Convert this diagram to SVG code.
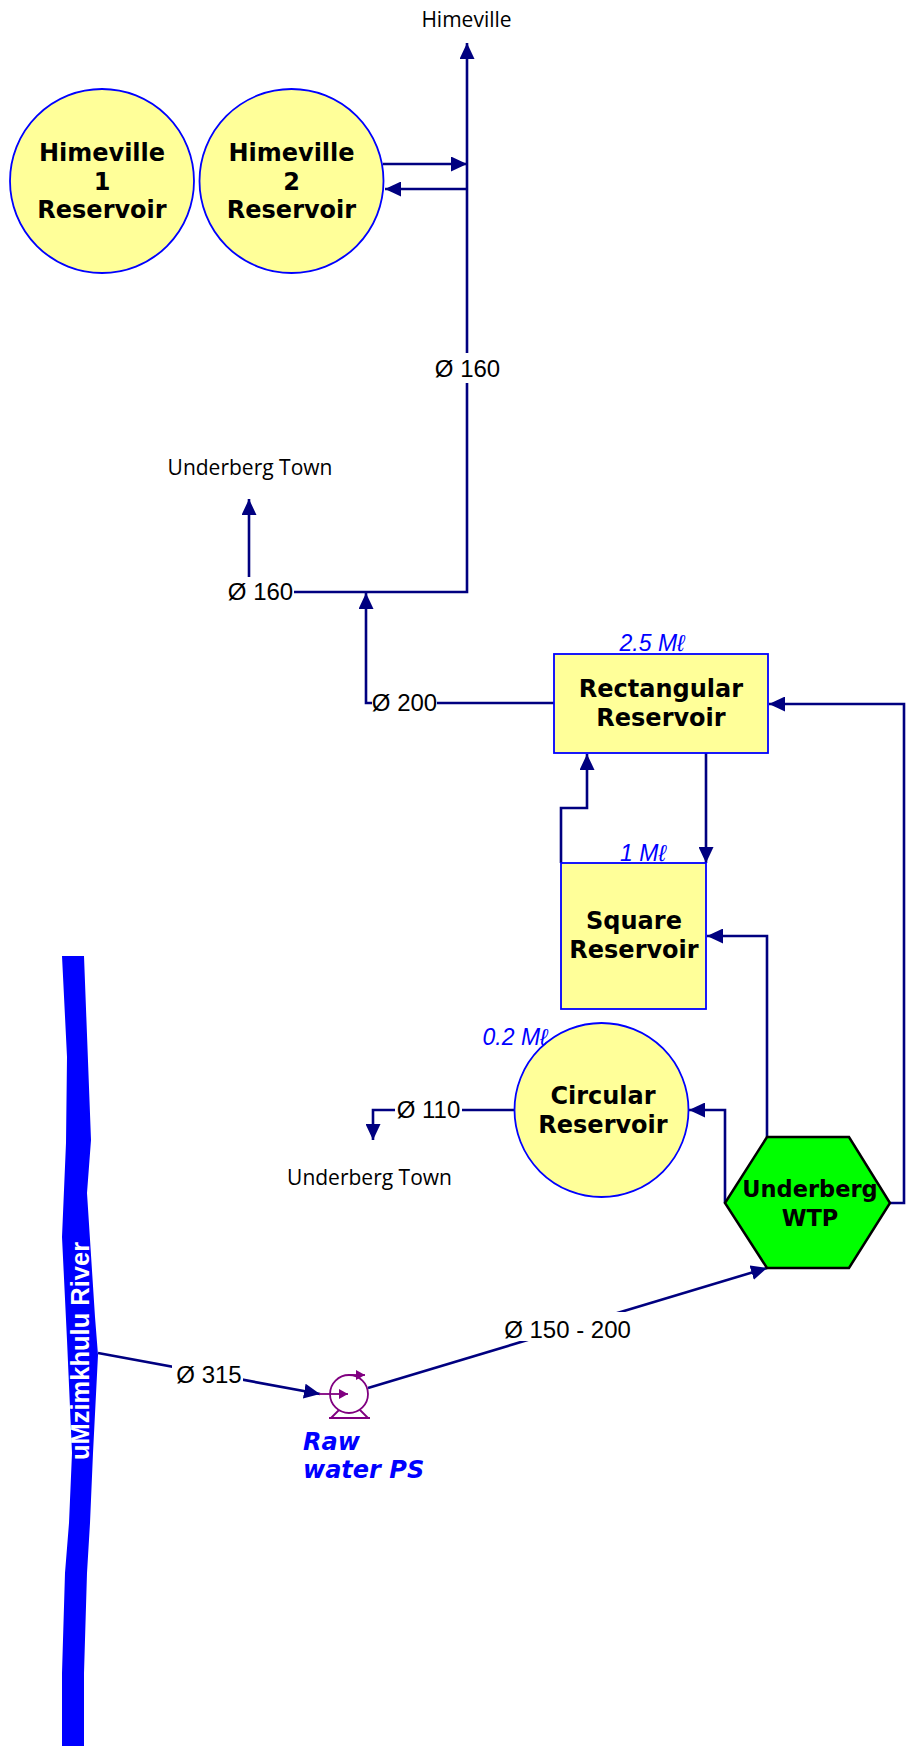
<svg xmlns="http://www.w3.org/2000/svg" width="907" height="1746" viewBox="0 0 907 1746">
<style>
.res{fill:#FFFF99;stroke:#0000FF;stroke-width:1.8}
.wtp{fill:#00FF00;stroke:#000000;stroke-width:2.5}
.pipe{fill:none;stroke:#000080;stroke-width:2.6;marker-end:url(#arr)}
.lbl{font-family:"DejaVu Sans",Verdana,sans-serif;font-weight:bold;font-size:24px;fill:#000;text-anchor:middle}
.dia{font-family:"Liberation Sans",Arial,sans-serif;font-size:24px;fill:#000;text-anchor:middle}
.cap{font-family:"Liberation Sans",Arial,sans-serif;font-style:italic;font-size:23px;fill:#0000FF;text-anchor:middle}
.dest{font-family:"Open Sans","Noto Sans",sans-serif;font-size:21px;fill:#000;text-anchor:middle}
.bg{fill:#FFFFFF}
.pump{fill:none;stroke:#800080;stroke-width:1.8}
.ps{font-family:"DejaVu Sans",Verdana,sans-serif;font-weight:bold;font-style:italic;font-size:24px;fill:#0000FF}
.riv{font-family:"Liberation Sans",Arial,sans-serif;font-weight:bold;font-size:25.5px;fill:#FFFFFF;text-anchor:middle}
</style>
<defs>
<marker id="arr" markerUnits="userSpaceOnUse" markerWidth="16" markerHeight="15" refX="16" refY="7.5" orient="auto">
<path d="M0,0 L16,7.5 L0,15 Z" fill="#000080"/>
</marker>
<marker id="parr" markerUnits="userSpaceOnUse" markerWidth="9" markerHeight="10" refX="9" refY="5" orient="auto">
<path d="M0,0 L9,5 L0,10 Z" fill="#800080"/>
</marker>
</defs>

<g id="river">
<polygon points="62,956 67,1057 66,1143 62,1237 67,1340 72,1453 69,1523 65,1573 62,1673 62,1746 84,1746 84,1673 87,1573 90,1523 93,1453 98,1355 95,1317 87,1193 91,1140 84,956" fill="#0000FF"/>
<text class="riv" transform="translate(89,1351) rotate(-90)">uMzimkhulu River</text>
</g>

<g id="connectors">
<path class="pipe" d="M383,164 H467"/>
<path class="pipe" d="M467,189 H385"/>
<path class="pipe" d="M294,592 H467 V43"/>
<path class="pipe" d="M249,577 V499"/>
<path class="pipe" d="M554,703 H366 V593"/>
<path class="pipe" d="M706,753 V863"/>
<path class="pipe" d="M561,863 V808 H587 V754"/>
<path class="pipe" d="M767,1137 V936 H707"/>
<path class="pipe" d="M725,1203 V1110 H689"/>
<path class="pipe" d="M890,1203 H904 V704 H769"/>
<path class="pipe" d="M515,1110 H373 V1140"/>
<path class="pipe" d="M98,1353 L320,1394"/>
<path class="pipe" d="M368,1388 L767,1268"/>
</g>

<g id="labels">
<rect class="bg" x="432" y="353" width="71" height="30"/>
<text class="dia" x="467.5" y="377">Ø 160</text>
<rect class="bg" x="225" y="580" width="69" height="26"/>
<text class="dia" x="260.5" y="600">Ø 160</text>
<rect class="bg" x="372" y="690" width="65" height="26"/>
<text class="dia" x="404.5" y="711">Ø 200</text>
<rect class="bg" x="395" y="1097" width="67" height="26"/>
<text class="dia" x="428.5" y="1118">Ø 110</text>
<rect class="bg" x="172" y="1362" width="71" height="26"/>
<text class="dia" x="209" y="1383">Ø 315</text>
<rect class="bg" x="500" y="1312" width="135" height="29"/>
<text class="dia" x="567.5" y="1338">Ø 150 - 200</text>
<text class="dest" x="466.5" y="27">Himeville</text>
<text class="dest" x="250" y="475">Underberg Town</text>
<text class="dest" x="369.5" y="1185">Underberg Town</text>
</g>

<g id="himeville1">
<circle class="res" cx="102" cy="181" r="92"/>
<text class="lbl" x="102" y="161">Himeville</text>
<text class="lbl" x="102" y="189.5">1</text>
<text class="lbl" x="102" y="218">Reservoir</text>
</g>

<g id="himeville2">
<circle class="res" cx="291.5" cy="181" r="92"/>
<text class="lbl" x="291.5" y="161">Himeville</text>
<text class="lbl" x="291.5" y="189.5">2</text>
<text class="lbl" x="291.5" y="218">Reservoir</text>
</g>

<g id="rectangular">
<rect class="res" x="554" y="654" width="214" height="99"/>
<text class="lbl" x="661" y="697">Rectangular</text>
<text class="lbl" x="661" y="726">Reservoir</text>
<text class="cap" x="652" y="651">2.5 Mℓ</text>
</g>

<g id="square">
<rect class="res" x="561" y="863" width="145" height="146"/>
<text class="lbl" x="634" y="929">Square</text>
<text class="lbl" x="634" y="958">Reservoir</text>
<text class="cap" x="643" y="861">1 Mℓ</text>
</g>

<g id="circular">
<circle class="res" cx="601.5" cy="1110" r="87"/>
<text class="lbl" x="603" y="1104">Circular</text>
<text class="lbl" x="603" y="1133">Reservoir</text>
<text class="cap" x="515" y="1045">0.2 Mℓ</text>
</g>

<g id="wtp">
<polygon class="wtp" points="725,1203 767,1137 849,1137 890,1203 849,1268 767,1268"/>
<text class="lbl" x="810" y="1197" style="font-size:22.5px">Underberg</text>
<text class="lbl" x="810" y="1226" style="font-size:22.5px">WTP</text>
</g>

<g id="pump">
<line class="pump" x1="319" y1="1394" x2="330" y2="1394"/>
<circle class="pump" cx="349" cy="1394" r="19"/>
<line class="pump" x1="330" y1="1394" x2="348" y2="1394" marker-end="url(#parr)"/>
<line class="pump" x1="349" y1="1375" x2="365" y2="1375" marker-end="url(#parr)"/>
<path class="pump" d="M329,1418 H370 M331,1418 L339,1410 M368,1418 L360,1410"/>
<text class="ps" x="303" y="1450">Raw</text>
<text class="ps" x="303" y="1478">water PS</text>
</g>
</svg>
